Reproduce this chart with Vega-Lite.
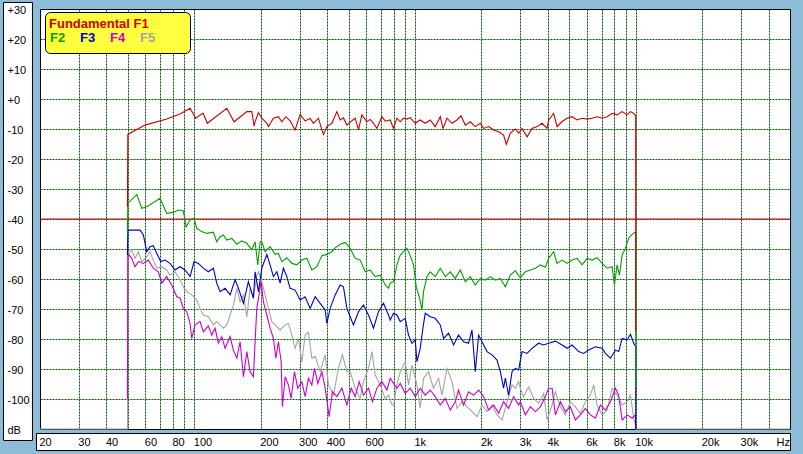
{
"$schema": "https://vega.github.io/schema/vega-lite/v6.json",
"width": 750, "height": 420,
"autosize": {"type": "none"},
"padding": {"left": 40, "top": 9, "right": 13, "bottom": 25},
"background": "#8dbcd8",
"config": {
  "view": {"fill": "white", "stroke": "black", "strokeWidth": 1},
  "axis": {"labelColor": "black", "titleColor": "black", "labelFont": "Liberation Sans", "titleFont": "Liberation Sans", "labelFontSize": 11, "titleFontSize": 11, "titleFontWeight": "normal"}
},
"data": {"values": [
{"s":"F1","f":49.8,"v":-36},{"s":"F1","f":50,"v":-11.8},{"s":"F1","f":59.8,"v":-8.7},{"s":"F1","f":75,"v":-6.7},{"s":"F1","f":86.2,"v":-5},{"s":"F1","f":95.7,"v":-3.1},{"s":"F1","f":101.5,"v":-6.4},{"s":"F1","f":109.6,"v":-4.7},{"s":"F1","f":114.6,"v":-8.1},{"s":"F1","f":140.4,"v":-3.1},{"s":"F1","f":151.5,"v":-7.6},{"s":"F1","f":173,"v":-4.2},{"s":"F1","f":182.2,"v":-4.2},{"s":"F1","f":186.6,"v":-9},{"s":"F1","f":188.6,"v":-7.6},{"s":"F1","f":195.3,"v":-4.5},{"s":"F1","f":202.3,"v":-6.4},{"s":"F1","f":213.2,"v":-8.1},{"s":"F1","f":216.7,"v":-9.2},{"s":"F1","f":228.3,"v":-6.4},{"s":"F1","f":240.6,"v":-5.9},{"s":"F1","f":249.3,"v":-7.6},{"s":"F1","f":259.9,"v":-5.9},{"s":"F1","f":271.8,"v":-7.3},{"s":"F1","f":286.4,"v":-10.3},{"s":"F1","f":301.7,"v":-5.1},{"s":"F1","f":317.9,"v":-7.3},{"s":"F1","f":334.9,"v":-6.5},{"s":"F1","f":346.6,"v":-8.1},{"s":"F1","f":365.3,"v":-6.4},{"s":"F1","f":378.5,"v":-10.3},{"s":"F1","f":384.8,"v":-11.8},{"s":"F1","f":398.8,"v":-9.2},{"s":"F1","f":420.1,"v":-8.1},{"s":"F1","f":442.6,"v":-4.2},{"s":"F1","f":458.1,"v":-7},{"s":"F1","f":474.1,"v":-6.3},{"s":"F1","f":491.4,"v":-8.7},{"s":"F1","f":508.5,"v":-7.7},{"s":"F1","f":535.8,"v":-6.4},{"s":"F1","f":554.6,"v":-10.3},{"s":"F1","f":574.6,"v":-5.3},{"s":"F1","f":605.5,"v":-7.6},{"s":"F1","f":626.6,"v":-6.8},{"s":"F1","f":648.5,"v":-8.1},{"s":"F1","f":672.1,"v":-9.8},{"s":"F1","f":708.1,"v":-5.9},{"s":"F1","f":732.9,"v":-7.4},{"s":"F1","f":772.2,"v":-7},{"s":"F1","f":799.2,"v":-9.8},{"s":"F1","f":828.2,"v":-6.4},{"s":"F1","f":857.2,"v":-7.6},{"s":"F1","f":887.2,"v":-6.4},{"s":"F1","f":919.4,"v":-6.7},{"s":"F1","f":951.5,"v":-6.2},{"s":"F1","f":1002.5,"v":-8.1},{"s":"F1","f":1056,"v":-7},{"s":"F1","f":1113,"v":-8.1},{"s":"F1","f":1172,"v":-7},{"s":"F1","f":1235,"v":-9.2},{"s":"F1","f":1302,"v":-5.9},{"s":"F1","f":1339,"v":-9.8},{"s":"F1","f":1396,"v":-6.4},{"s":"F1","f":1471,"v":-8.1},{"s":"F1","f":1549,"v":-7},{"s":"F1","f":1616,"v":-5.6},{"s":"F1","f":1690,"v":-8.7},{"s":"F1","f":1780,"v":-7.6},{"s":"F1","f":1876,"v":-9.2},{"s":"F1","f":1976,"v":-8.1},{"s":"F1","f":2045,"v":-9.8},{"s":"F1","f":2155,"v":-9.2},{"s":"F1","f":2271,"v":-10.3},{"s":"F1","f":2392,"v":-10.9},{"s":"F1","f":2520,"v":-12},{"s":"F1","f":2593,"v":-15.1},{"s":"F1","f":2703,"v":-11.4},{"s":"F1","f":2848,"v":-10},{"s":"F1","f":2948,"v":-11.4},{"s":"F1","f":3055,"v":-9.8},{"s":"F1","f":3219,"v":-12.6},{"s":"F1","f":3391,"v":-9.8},{"s":"F1","f":3573,"v":-9.2},{"s":"F1","f":3765,"v":-8.1},{"s":"F1","f":3966,"v":-9.8},{"s":"F1","f":4032,"v":-7},{"s":"F1","f":4249,"v":-4.8},{"s":"F1","f":4403,"v":-9.2},{"s":"F1","f":4639,"v":-7.5},{"s":"F1","f":4887,"v":-6.4},{"s":"F1","f":5149,"v":-5.9},{"s":"F1","f":5425,"v":-7},{"s":"F1","f":5716,"v":-6.4},{"s":"F1","f":6022,"v":-6.7},{"s":"F1","f":6345,"v":-6.4},{"s":"F1","f":6685,"v":-5.9},{"s":"F1","f":7043,"v":-6.4},{"s":"F1","f":7421,"v":-5.9},{"s":"F1","f":7819,"v":-4.8},{"s":"F1","f":8238,"v":-5.3},{"s":"F1","f":8679,"v":-4.2},{"s":"F1","f":9145,"v":-5.3},{"s":"F1","f":9464,"v":-4.2},{"s":"F1","f":9795,"v":-4.8},{"s":"F1","f":10000,"v":-5.6},{"s":"F1","f":10001,"v":-77.5},
{"s":"F2","f":49.8,"v":-44},{"s":"F2","f":50,"v":-34.8},{"s":"F2","f":54.9,"v":-31.8},{"s":"F2","f":57.8,"v":-36.4},{"s":"F2","f":60.9,"v":-35.9},{"s":"F2","f":70,"v":-33.1},{"s":"F2","f":75,"v":-38.1},{"s":"F2","f":80.3,"v":-37.8},{"s":"F2","f":84.7,"v":-37},{"s":"F2","f":89.2,"v":-37.3},{"s":"F2","f":91.8,"v":-42.6},{"s":"F2","f":95.7,"v":-40.3},{"s":"F2","f":99.8,"v":-39.8},{"s":"F2","f":102.6,"v":-43.1},{"s":"F2","f":108.1,"v":-44.2},{"s":"F2","f":113.9,"v":-44.8},{"s":"F2","f":122,"v":-44.4},{"s":"F2","f":126.4,"v":-47.6},{"s":"F2","f":130.9,"v":-45.9},{"s":"F2","f":135.5,"v":-45.3},{"s":"F2","f":140.4,"v":-47},{"s":"F2","f":147.9,"v":-46.5},{"s":"F2","f":155.9,"v":-48.4},{"s":"F2","f":164.2,"v":-47.3},{"s":"F2","f":173,"v":-48.1},{"s":"F2","f":182.2,"v":-50.3},{"s":"F2","f":188.6,"v":-47.6},{"s":"F2","f":193.9,"v":-55.3},{"s":"F2","f":198.7,"v":-47.6},{"s":"F2","f":202.3,"v":-47.6},{"s":"F2","f":209.4,"v":-50.9},{"s":"F2","f":220.6,"v":-49.2},{"s":"F2","f":232.4,"v":-51.8},{"s":"F2","f":240.6,"v":-51.5},{"s":"F2","f":249.3,"v":-54.2},{"s":"F2","f":262.6,"v":-52.9},{"s":"F2","f":276.7,"v":-54.8},{"s":"F2","f":291.5,"v":-55.3},{"s":"F2","f":307.1,"v":-53.7},{"s":"F2","f":323.6,"v":-53.1},{"s":"F2","f":340.9,"v":-57},{"s":"F2","f":359.2,"v":-55.9},{"s":"F2","f":378.5,"v":-52.2},{"s":"F2","f":398.8,"v":-51.8},{"s":"F2","f":420.1,"v":-50.9},{"s":"F2","f":434.8,"v":-49.6},{"s":"F2","f":458.1,"v":-48.4},{"s":"F2","f":482.7,"v":-47.8},{"s":"F2","f":508.5,"v":-49.8},{"s":"F2","f":535.8,"v":-53.1},{"s":"F2","f":564.5,"v":-53.7},{"s":"F2","f":594.8,"v":-57.6},{"s":"F2","f":626.6,"v":-57},{"s":"F2","f":660.2,"v":-59.2},{"s":"F2","f":695.6,"v":-58.7},{"s":"F2","f":732.9,"v":-62},{"s":"F2","f":758.5,"v":-63.1},{"s":"F2","f":772.2,"v":-61.4},{"s":"F2","f":799.2,"v":-60.9},{"s":"F2","f":828.2,"v":-55.3},{"s":"F2","f":857.2,"v":-52},{"s":"F2","f":887.2,"v":-50.9},{"s":"F2","f":919.4,"v":-49.8},{"s":"F2","f":951.5,"v":-52.2},{"s":"F2","f":984.8,"v":-55.3},{"s":"F2","f":1013,"v":-62.6},{"s":"F2","f":1049,"v":-66.4},{"s":"F2","f":1075,"v":-70.3},{"s":"F2","f":1093,"v":-64.2},{"s":"F2","f":1133,"v":-59.2},{"s":"F2","f":1172,"v":-57.6},{"s":"F2","f":1235,"v":-59.2},{"s":"F2","f":1302,"v":-56.4},{"s":"F2","f":1371,"v":-59.2},{"s":"F2","f":1445,"v":-57.6},{"s":"F2","f":1522,"v":-59.8},{"s":"F2","f":1604,"v":-57},{"s":"F2","f":1690,"v":-60.9},{"s":"F2","f":1780,"v":-59.2},{"s":"F2","f":1876,"v":-62},{"s":"F2","f":1976,"v":-59.8},{"s":"F2","f":2082,"v":-60.4},{"s":"F2","f":2194,"v":-59.2},{"s":"F2","f":2311,"v":-60.4},{"s":"F2","f":2435,"v":-59.8},{"s":"F2","f":2566,"v":-62.6},{"s":"F2","f":2703,"v":-58.7},{"s":"F2","f":2848,"v":-57.3},{"s":"F2","f":3001,"v":-59.6},{"s":"F2","f":3162,"v":-57.6},{"s":"F2","f":3331,"v":-57},{"s":"F2","f":3510,"v":-56.4},{"s":"F2","f":3698,"v":-55.3},{"s":"F2","f":3896,"v":-56.1},{"s":"F2","f":4032,"v":-53.1},{"s":"F2","f":4249,"v":-50.9},{"s":"F2","f":4403,"v":-54.8},{"s":"F2","f":4639,"v":-53.7},{"s":"F2","f":4887,"v":-54.8},{"s":"F2","f":5149,"v":-53.7},{"s":"F2","f":5425,"v":-53.1},{"s":"F2","f":5716,"v":-55.3},{"s":"F2","f":6022,"v":-53.1},{"s":"F2","f":6345,"v":-53.7},{"s":"F2","f":6685,"v":-52.9},{"s":"F2","f":7043,"v":-54.8},{"s":"F2","f":7421,"v":-56.4},{"s":"F2","f":7819,"v":-55.9},{"s":"F2","f":8008,"v":-62},{"s":"F2","f":8238,"v":-55.3},{"s":"F2","f":8437,"v":-58.7},{"s":"F2","f":8679,"v":-52},{"s":"F2","f":8983,"v":-49.8},{"s":"F2","f":9294,"v":-46.4},{"s":"F2","f":9634,"v":-45.1},{"s":"F2","f":9902,"v":-44.4},{"s":"F2","f":10000,"v":-44.8},{"s":"F2","f":10001,"v":-96},
{"s":"F3","f":49.8,"v":-52},{"s":"F3","f":50,"v":-43.7},{"s":"F3","f":56.8,"v":-43.7},{"s":"F3","f":58.8,"v":-45.3},{"s":"F3","f":60.9,"v":-50.9},{"s":"F3","f":63,"v":-49.2},{"s":"F3","f":65.2,"v":-48.9},{"s":"F3","f":67.6,"v":-51.4},{"s":"F3","f":70.5,"v":-54.2},{"s":"F3","f":73.7,"v":-53.7},{"s":"F3","f":77.6,"v":-54.8},{"s":"F3","f":81.8,"v":-57},{"s":"F3","f":86.2,"v":-55.9},{"s":"F3","f":90.8,"v":-57},{"s":"F3","f":95.7,"v":-59.2},{"s":"F3","f":99.8,"v":-54.2},{"s":"F3","f":104.3,"v":-54.8},{"s":"F3","f":109.9,"v":-56.4},{"s":"F3","f":115.8,"v":-57.6},{"s":"F3","f":122,"v":-56.4},{"s":"F3","f":126.4,"v":-61.4},{"s":"F3","f":130.9,"v":-64.2},{"s":"F3","f":137.9,"v":-63.1},{"s":"F3","f":145.3,"v":-65.3},{"s":"F3","f":153.1,"v":-60.3},{"s":"F3","f":158.5,"v":-63.1},{"s":"F3","f":167,"v":-68.1},{"s":"F3","f":175.8,"v":-60.9},{"s":"F3","f":185.3,"v":-66.4},{"s":"F3","f":188.6,"v":-57.6},{"s":"F3","f":195.3,"v":-64.2},{"s":"F3","f":202.3,"v":-56.4},{"s":"F3","f":213.2,"v":-51.8},{"s":"F3","f":220.6,"v":-55.3},{"s":"F3","f":228.3,"v":-59.2},{"s":"F3","f":236.6,"v":-57.6},{"s":"F3","f":244.9,"v":-61.4},{"s":"F3","f":253.5,"v":-56.4},{"s":"F3","f":262.6,"v":-59.2},{"s":"F3","f":271.8,"v":-63.1},{"s":"F3","f":286.4,"v":-63.7},{"s":"F3","f":301.7,"v":-67},{"s":"F3","f":317.9,"v":-65.9},{"s":"F3","f":334.9,"v":-69.8},{"s":"F3","f":352.9,"v":-65.9},{"s":"F3","f":371.8,"v":-68.1},{"s":"F3","f":391.7,"v":-70.3},{"s":"F3","f":398.8,"v":-74.8},{"s":"F3","f":412.7,"v":-69.8},{"s":"F3","f":434.8,"v":-65.3},{"s":"F3","f":458.1,"v":-62},{"s":"F3","f":474.1,"v":-62.6},{"s":"F3","f":491.4,"v":-69.8},{"s":"F3","f":508.5,"v":-72.6},{"s":"F3","f":526.3,"v":-75.3},{"s":"F3","f":554.6,"v":-70.9},{"s":"F3","f":584.3,"v":-68.7},{"s":"F3","f":615.6,"v":-72},{"s":"F3","f":648.5,"v":-76.4},{"s":"F3","f":683.3,"v":-70.9},{"s":"F3","f":719.9,"v":-68.1},{"s":"F3","f":758.5,"v":-72},{"s":"F3","f":772.2,"v":-73.7},{"s":"F3","f":799.2,"v":-71.4},{"s":"F3","f":828.2,"v":-72},{"s":"F3","f":857.2,"v":-74.2},{"s":"F3","f":903.1,"v":-73.1},{"s":"F3","f":934.7,"v":-78.7},{"s":"F3","f":968.6,"v":-81.4},{"s":"F3","f":1002.5,"v":-80.3},{"s":"F3","f":1020.5,"v":-87.6},{"s":"F3","f":1056,"v":-83.1},{"s":"F3","f":1086,"v":-76.4},{"s":"F3","f":1113,"v":-71.4},{"s":"F3","f":1172,"v":-72.6},{"s":"F3","f":1235,"v":-73.1},{"s":"F3","f":1302,"v":-75.3},{"s":"F3","f":1348,"v":-79.8},{"s":"F3","f":1419,"v":-78.1},{"s":"F3","f":1496,"v":-82},{"s":"F3","f":1575,"v":-78.7},{"s":"F3","f":1660,"v":-80.9},{"s":"F3","f":1749,"v":-81.4},{"s":"F3","f":1812,"v":-77},{"s":"F3","f":1876,"v":-90.9},{"s":"F3","f":1942,"v":-78.7},{"s":"F3","f":2012,"v":-80.9},{"s":"F3","f":2119,"v":-84.2},{"s":"F3","f":2233,"v":-85.3},{"s":"F3","f":2353,"v":-87},{"s":"F3","f":2435,"v":-90.9},{"s":"F3","f":2520,"v":-96.4},{"s":"F3","f":2566,"v":-93},{"s":"F3","f":2654,"v":-98.7},{"s":"F3","f":2752,"v":-90.9},{"s":"F3","f":2848,"v":-89.8},{"s":"F3","f":2948,"v":-90.3},{"s":"F3","f":3055,"v":-84.2},{"s":"F3","f":3219,"v":-84.8},{"s":"F3","f":3391,"v":-83.1},{"s":"F3","f":3631,"v":-81.4},{"s":"F3","f":3827,"v":-82},{"s":"F3","f":4032,"v":-81.4},{"s":"F3","f":4325,"v":-80.7},{"s":"F3","f":4639,"v":-82},{"s":"F3","f":4887,"v":-83.1},{"s":"F3","f":5149,"v":-82},{"s":"F3","f":5514,"v":-84.2},{"s":"F3","f":5812,"v":-84.8},{"s":"F3","f":6121,"v":-83.7},{"s":"F3","f":6567,"v":-82.6},{"s":"F3","f":7043,"v":-83.1},{"s":"F3","f":7290,"v":-84.8},{"s":"F3","f":7681,"v":-86.4},{"s":"F3","f":8092,"v":-83.7},{"s":"F3","f":8372,"v":-84.2},{"s":"F3","f":8679,"v":-79.8},{"s":"F3","f":9145,"v":-80.3},{"s":"F3","f":9464,"v":-78.4},{"s":"F3","f":9795,"v":-81.4},{"s":"F3","f":10000,"v":-82.6},{"s":"F3","f":10001,"v":-110},
{"s":"F4","f":49.8,"v":-100},{"s":"F4","f":50,"v":-51.5},{"s":"F4","f":52.1,"v":-53.1},{"s":"F4","f":53.9,"v":-55.9},{"s":"F4","f":55.8,"v":-54.2},{"s":"F4","f":58.8,"v":-54.8},{"s":"F4","f":61.9,"v":-53.7},{"s":"F4","f":65.2,"v":-56.4},{"s":"F4","f":68.7,"v":-57.6},{"s":"F4","f":71.3,"v":-61.4},{"s":"F4","f":75,"v":-59.2},{"s":"F4","f":79,"v":-62},{"s":"F4","f":83.3,"v":-65.9},{"s":"F4","f":86.2,"v":-66.3},{"s":"F4","f":89.2,"v":-69.8},{"s":"F4","f":92.4,"v":-70.9},{"s":"F4","f":95.7,"v":-74.8},{"s":"F4","f":97.4,"v":-79.8},{"s":"F4","f":100.8,"v":-75.3},{"s":"F4","f":106.2,"v":-74.2},{"s":"F4","f":109.9,"v":-77.6},{"s":"F4","f":115.8,"v":-75.6},{"s":"F4","f":120,"v":-78.7},{"s":"F4","f":124.2,"v":-76.4},{"s":"F4","f":128.5,"v":-81.4},{"s":"F4","f":133.3,"v":-79.2},{"s":"F4","f":137.9,"v":-83.1},{"s":"F4","f":145.3,"v":-79.2},{"s":"F4","f":150.4,"v":-83.7},{"s":"F4","f":155.9,"v":-86.4},{"s":"F4","f":161.3,"v":-80.9},{"s":"F4","f":167,"v":-92.6},{"s":"F4","f":173,"v":-84.2},{"s":"F4","f":179,"v":-90.9},{"s":"F4","f":185.3,"v":-92.6},{"s":"F4","f":188.6,"v":-80.9},{"s":"F4","f":192,"v":-69.8},{"s":"F4","f":196.6,"v":-65.3},{"s":"F4","f":200.8,"v":-60.9},{"s":"F4","f":205.7,"v":-67.6},{"s":"F4","f":213.2,"v":-72},{"s":"F4","f":220.6,"v":-76.4},{"s":"F4","f":228.3,"v":-79.8},{"s":"F4","f":234.1,"v":-86.4},{"s":"F4","f":240.6,"v":-80.9},{"s":"F4","f":247.5,"v":-87.6},{"s":"F4","f":250.8,"v":-102.6},{"s":"F4","f":258,"v":-92.6},{"s":"F4","f":266.9,"v":-95.3},{"s":"F4","f":274.7,"v":-99.8},{"s":"F4","f":284.3,"v":-90.9},{"s":"F4","f":294.4,"v":-96.4},{"s":"F4","f":307.1,"v":-94.2},{"s":"F4","f":317.9,"v":-99.2},{"s":"F4","f":329,"v":-93.1},{"s":"F4","f":340.9,"v":-95.3},{"s":"F4","f":350.4,"v":-89.8},{"s":"F4","f":362.8,"v":-94.8},{"s":"F4","f":378.5,"v":-90.9},{"s":"F4","f":391.7,"v":-96.4},{"s":"F4","f":408.4,"v":-105.9},{"s":"F4","f":422.7,"v":-97.6},{"s":"F4","f":442.6,"v":-99.2},{"s":"F4","f":466.3,"v":-96.4},{"s":"F4","f":491.4,"v":-102},{"s":"F4","f":513.8,"v":-96.4},{"s":"F4","f":535.8,"v":-99.2},{"s":"F4","f":558.6,"v":-94.2},{"s":"F4","f":584.3,"v":-98.7},{"s":"F4","f":615.6,"v":-96.4},{"s":"F4","f":641.7,"v":-100.9},{"s":"F4","f":672.1,"v":-96.4},{"s":"F4","f":708.1,"v":-94.2},{"s":"F4","f":746.1,"v":-97},{"s":"F4","f":772.2,"v":-93.1},{"s":"F4","f":807.9,"v":-95.3},{"s":"F4","f":828.2,"v":-96.4},{"s":"F4","f":857.2,"v":-94.8},{"s":"F4","f":903.1,"v":-98.1},{"s":"F4","f":951.5,"v":-96.4},{"s":"F4","f":1002.5,"v":-99.2},{"s":"F4","f":1056,"v":-96.4},{"s":"F4","f":1113,"v":-98.7},{"s":"F4","f":1172,"v":-97},{"s":"F4","f":1235,"v":-99.2},{"s":"F4","f":1302,"v":-102},{"s":"F4","f":1371,"v":-99.8},{"s":"F4","f":1445,"v":-103.7},{"s":"F4","f":1522,"v":-100.9},{"s":"F4","f":1575,"v":-97},{"s":"F4","f":1660,"v":-102},{"s":"F4","f":1749,"v":-97.6},{"s":"F4","f":1842,"v":-98.7},{"s":"F4","f":1942,"v":-97},{"s":"F4","f":2045,"v":-99.2},{"s":"F4","f":2155,"v":-103.7},{"s":"F4","f":2271,"v":-102},{"s":"F4","f":2392,"v":-104.8},{"s":"F4","f":2520,"v":-100.9},{"s":"F4","f":2654,"v":-103.1},{"s":"F4","f":2798,"v":-99.2},{"s":"F4","f":2948,"v":-102},{"s":"F4","f":3001,"v":-100.9},{"s":"F4","f":3162,"v":-105.3},{"s":"F4","f":3331,"v":-102.6},{"s":"F4","f":3510,"v":-104.2},{"s":"F4","f":3698,"v":-102.6},{"s":"F4","f":3896,"v":-99.2},{"s":"F4","f":4032,"v":-96.4},{"s":"F4","f":4179,"v":-96.4},{"s":"F4","f":4325,"v":-105.3},{"s":"F4","f":4557,"v":-100.9},{"s":"F4","f":4801,"v":-104.2},{"s":"F4","f":5058,"v":-102.6},{"s":"F4","f":5329,"v":-107},{"s":"F4","f":5615,"v":-105.3},{"s":"F4","f":5916,"v":-103.1},{"s":"F4","f":6233,"v":-105.3},{"s":"F4","f":6567,"v":-106.4},{"s":"F4","f":6919,"v":-102},{"s":"F4","f":7290,"v":-103.7},{"s":"F4","f":7681,"v":-100.9},{"s":"F4","f":8092,"v":-96.4},{"s":"F4","f":8372,"v":-98.7},{"s":"F4","f":8679,"v":-107},{"s":"F4","f":9145,"v":-105.3},{"s":"F4","f":9634,"v":-106.4},{"s":"F4","f":9972,"v":-105.3},{"s":"F4","f":10001,"v":-110},
{"s":"F5","f":20,"v":-110},{"s":"F5","f":49.8,"v":-110},{"s":"F5","f":50,"v":-52},{"s":"F5","f":52.1,"v":-50.3},{"s":"F5","f":53.9,"v":-53.1},{"s":"F5","f":55.8,"v":-50.9},{"s":"F5","f":57.8,"v":-54.2},{"s":"F5","f":60.9,"v":-52.6},{"s":"F5","f":63,"v":-50.9},{"s":"F5","f":65.2,"v":-53.7},{"s":"F5","f":67.6,"v":-56.4},{"s":"F5","f":71.3,"v":-55.9},{"s":"F5","f":75,"v":-57},{"s":"F5","f":77.6,"v":-58.7},{"s":"F5","f":81.8,"v":-57.6},{"s":"F5","f":86.2,"v":-60.3},{"s":"F5","f":89.2,"v":-62.6},{"s":"F5","f":92.4,"v":-64.2},{"s":"F5","f":97.4,"v":-65.3},{"s":"F5","f":102.6,"v":-67},{"s":"F5","f":106.2,"v":-69.8},{"s":"F5","f":109.9,"v":-72},{"s":"F5","f":115.8,"v":-72.6},{"s":"F5","f":122,"v":-75.3},{"s":"F5","f":126.4,"v":-74.2},{"s":"F5","f":130.9,"v":-75.3},{"s":"F5","f":135.5,"v":-76.4},{"s":"F5","f":140.4,"v":-75.3},{"s":"F5","f":145.3,"v":-72},{"s":"F5","f":150.4,"v":-68.7},{"s":"F5","f":155.9,"v":-63.1},{"s":"F5","f":161.3,"v":-67.6},{"s":"F5","f":167,"v":-65.3},{"s":"F5","f":173,"v":-72.6},{"s":"F5","f":179,"v":-63.1},{"s":"F5","f":185.3,"v":-66.4},{"s":"F5","f":192,"v":-58.7},{"s":"F5","f":195.3,"v":-57.6},{"s":"F5","f":202.3,"v":-60.9},{"s":"F5","f":209.4,"v":-65.3},{"s":"F5","f":216.7,"v":-69.8},{"s":"F5","f":224.6,"v":-74.2},{"s":"F5","f":232.4,"v":-75.3},{"s":"F5","f":244.9,"v":-77},{"s":"F5","f":258,"v":-75.3},{"s":"F5","f":266.9,"v":-74.8},{"s":"F5","f":276.7,"v":-78.7},{"s":"F5","f":286.4,"v":-83.1},{"s":"F5","f":296.4,"v":-79.8},{"s":"F5","f":307.1,"v":-87.6},{"s":"F5","f":317.9,"v":-78.7},{"s":"F5","f":329,"v":-77.8},{"s":"F5","f":340.9,"v":-86.4},{"s":"F5","f":352.9,"v":-85.8},{"s":"F5","f":371.8,"v":-90.9},{"s":"F5","f":391.7,"v":-85.3},{"s":"F5","f":405.4,"v":-95.3},{"s":"F5","f":427.2,"v":-98.7},{"s":"F5","f":450,"v":-89.8},{"s":"F5","f":469.1,"v":-85.3},{"s":"F5","f":491.4,"v":-90.9},{"s":"F5","f":508.5,"v":-90.9},{"s":"F5","f":535.8,"v":-96.4},{"s":"F5","f":564.5,"v":-99.8},{"s":"F5","f":584.3,"v":-94.2},{"s":"F5","f":615.6,"v":-89.8},{"s":"F5","f":637.9,"v":-84.2},{"s":"F5","f":660.2,"v":-92},{"s":"F5","f":695.6,"v":-95.3},{"s":"F5","f":732.9,"v":-99.8},{"s":"F5","f":758.5,"v":-98.7},{"s":"F5","f":786.1,"v":-102},{"s":"F5","f":799.2,"v":-102},{"s":"F5","f":828.2,"v":-95.3},{"s":"F5","f":857.2,"v":-90.9},{"s":"F5","f":903.1,"v":-87.6},{"s":"F5","f":934.7,"v":-95.3},{"s":"F5","f":968.6,"v":-88.7},{"s":"F5","f":1020.5,"v":-95.3},{"s":"F5","f":1056,"v":-103.1},{"s":"F5","f":1093,"v":-93.1},{"s":"F5","f":1152,"v":-90.9},{"s":"F5","f":1213,"v":-96.4},{"s":"F5","f":1278,"v":-93.1},{"s":"F5","f":1325,"v":-98.7},{"s":"F5","f":1396,"v":-89.8},{"s":"F5","f":1471,"v":-94.2},{"s":"F5","f":1549,"v":-103.1},{"s":"F5","f":1633,"v":-100.9},{"s":"F5","f":1720,"v":-102.6},{"s":"F5","f":1812,"v":-104.2},{"s":"F5","f":1910,"v":-105.9},{"s":"F5","f":2012,"v":-102},{"s":"F5","f":2119,"v":-104.2},{"s":"F5","f":2233,"v":-102},{"s":"F5","f":2353,"v":-105.3},{"s":"F5","f":2479,"v":-107},{"s":"F5","f":2566,"v":-103.1},{"s":"F5","f":2654,"v":-99.2},{"s":"F5","f":2752,"v":-95.3},{"s":"F5","f":2848,"v":-96.4},{"s":"F5","f":2948,"v":-94.2},{"s":"F5","f":3001,"v":-96.4},{"s":"F5","f":3106,"v":-99.2},{"s":"F5","f":3273,"v":-95.9},{"s":"F5","f":3448,"v":-99.8},{"s":"F5","f":3631,"v":-101.4},{"s":"F5","f":3827,"v":-98.1},{"s":"F5","f":3966,"v":-107},{"s":"F5","f":4179,"v":-102},{"s":"F5","f":4325,"v":-97.6},{"s":"F5","f":4557,"v":-102.6},{"s":"F5","f":4801,"v":-105.3},{"s":"F5","f":5058,"v":-100.9},{"s":"F5","f":5329,"v":-102.6},{"s":"F5","f":5615,"v":-104.8},{"s":"F5","f":5916,"v":-100.9},{"s":"F5","f":6233,"v":-98.7},{"s":"F5","f":6451,"v":-95.3},{"s":"F5","f":6685,"v":-102},{"s":"F5","f":7043,"v":-105.3},{"s":"F5","f":7421,"v":-103.7},{"s":"F5","f":7819,"v":-96.4},{"s":"F5","f":8238,"v":-98.7},{"s":"F5","f":8679,"v":-102},{"s":"F5","f":9145,"v":-100.9},{"s":"F5","f":9464,"v":-98.7},{"s":"F5","f":9795,"v":-106.4},{"s":"F5","f":9972,"v":-108.7},{"s":"F5","f":10001,"v":-110},{"s":"F5","f":50000,"v":-110}
]},
"layer": [
  {"data": {"values": [{}]}, "mark": {"type": "rect", "fill": "white", "stroke": "black", "strokeWidth": 1},
   "encoding": {"x": {"datum": 13.67, "type": "quantitative", "axis": null}, "x2": {"datum": 18.49}, "y": {"datum": 32.17, "type": "quantitative", "axis": null}, "y2": {"datum": -113.83}}},
  {"data": {"values": [{}]}, "mark": {"type": "rect", "fill": "white", "stroke": "black", "strokeWidth": 1},
   "encoding": {"x": {"datum": 19.28, "type": "quantitative", "axis": null}, "x2": {"datum": 50260}, "y": {"datum": -111.5, "type": "quantitative", "axis": null}, "y2": {"datum": -117.17}}},
  {"data": {"values": [{}]}, "mark": {"type": "rect", "fill": "#ffff40", "stroke": "black", "strokeWidth": 1, "cornerRadius": 5},
   "encoding": {"x": {"datum": 21.18, "type": "quantitative", "axis": null}, "x2": {"datum": 96.16}, "y": {"datum": 28.83, "type": "quantitative", "axis": null}, "y2": {"datum": 15.17}}},
  {"transform": [{"filter": "datum.s === 'F5'"}], "mark": {"type": "line", "strokeWidth": 1.1},
   "encoding": {
     "x": {"field": "f", "type": "quantitative", "scale": {"type": "log", "domain": [20, 50000], "nice": false},
       "axis": {"orient": "bottom", "values": [30,40,50,60,70,80,90,100,200,300,400,500,600,700,800,900,1000,2000,3000,4000,5000,6000,7000,8000,9000,10000,20000,30000,40000], "grid": true, "gridColor": "#005a00", "gridDash": [2,1], "gridOpacity": 1, "gridWidth": 1, "labels": false, "ticks": false, "domain": false, "title": null, "zindex": 0}},
     "y": {"field": "v", "type": "quantitative", "scale": {"domain": [-110, 30], "nice": false, "zero": false},
       "axis": {"orient": "left", "values": [-100,-90,-80,-70,-60,-50,-40,-30,-20,-10,0,10,20], "grid": true, "gridColor": "#005a00", "gridDash": [2,1], "gridOpacity": 1, "gridWidth": 1, "labels": false, "ticks": false, "domain": false, "title": null, "zindex": 0}},
     "color": {"field": "s", "type": "nominal", "scale": {"domain": ["F1","F2","F3","F4","F5"], "range": ["#cc0000","#00a000","#0000c8","#cc00cc","#a4a4a4"]}}}},
  {"data": {"values": [{}]}, "mark": {"type": "rule", "color": "#cc0000", "strokeWidth": 1},
   "encoding": {"y": {"datum": -40, "type": "quantitative", "axis": null}}},
  {"transform": [{"filter": "datum.s === 'F4'"}], "mark": {"type": "line", "strokeWidth": 1.1},
   "encoding": {
     "x": {"field": "f", "type": "quantitative", "axis": null},
     "y": {"field": "v", "type": "quantitative", "axis": null},
     "color": {"field": "s", "type": "nominal", "scale": {"domain": ["F1","F2","F3","F4","F5"], "range": ["#cc0000","#00a000","#0000c8","#cc00cc","#a4a4a4"]}}}},
  {"transform": [{"filter": "datum.s === 'F3'"}], "mark": {"type": "line", "strokeWidth": 1.1},
   "encoding": {
     "x": {"field": "f", "type": "quantitative", "axis": null},
     "y": {"field": "v", "type": "quantitative", "axis": null},
     "color": {"field": "s", "type": "nominal", "scale": {"domain": ["F1","F2","F3","F4","F5"], "range": ["#cc0000","#00a000","#0000c8","#cc00cc","#a4a4a4"]}}}},
  {"transform": [{"filter": "datum.s === 'F2'"}], "mark": {"type": "line", "strokeWidth": 1.1},
   "encoding": {
     "x": {"field": "f", "type": "quantitative", "axis": null},
     "y": {"field": "v", "type": "quantitative", "axis": null},
     "color": {"field": "s", "type": "nominal", "scale": {"domain": ["F1","F2","F3","F4","F5"], "range": ["#cc0000","#00a000","#0000c8","#cc00cc","#a4a4a4"]}}}},
  {"transform": [{"filter": "datum.s === 'F1'"}], "mark": {"type": "line", "strokeWidth": 1.1},
   "encoding": {
     "x": {"field": "f", "type": "quantitative",
       "axis": {"orient": "bottom", "values": [20,30,40,60,80,100,200,300,400,600,1000,2000,3000,4000,6000,8000,10000,20000,30000], "labelExpr": "datum.value >= 1000 ? (datum.value / 1000) + 'k' : '' + datum.value", "grid": false, "domain": false, "ticks": false, "tickSize": 0, "labelPadding": 13.5, "labelBaseline": "middle", "labelAlign": "left", "labelOffset": -1, "labelFlush": false, "labelOverlap": false, "labelBound": false, "title": "Hz", "titleX": 736, "titleY": 13.5, "titleAlign": "left", "titleBaseline": "middle", "titleAngle": 0, "zindex": 1}},
     "y": {"field": "v", "type": "quantitative",
       "axis": {"orient": "left", "values": [-100,-90,-80,-70,-60,-50,-40,-30,-20,-10,0,10,20,30], "labelExpr": "(datum.value >= 0 ? '+' : '-') + abs(datum.value)", "grid": false, "domain": false, "ticks": false, "tickSize": 0, "labelPadding": 33, "labelAlign": "left", "labelBaseline": "middle", "labelOffset": 1.5, "labelFlush": false, "labelOverlap": false, "labelBound": false, "title": "dB", "titleX": -33, "titleY": 421, "titleAngle": 0, "titleAlign": "left", "titleBaseline": "middle", "zindex": 1}},
     "color": {"field": "s", "type": "nominal", "scale": {"domain": ["F1","F2","F3","F4","F5"], "range": ["#cc0000","#00a000","#0000c8","#cc00cc","#a4a4a4"]},
       "legend": {"orient": "none", "legendX": 9, "legendY": 8.5, "direction": "horizontal", "values": ["F2","F3","F4","F5"], "title": "Fundamental F1", "titleColor": "#cc0000", "titleFont": "Liberation Sans", "titleFontSize": 13, "titleFontWeight": "bold", "titlePadding": 0.5, "labelFont": "Liberation Sans", "labelFontSize": 13, "labelFontWeight": "bold", "labelOffset": -12, "symbolType": "circle", "symbolSize": 0, "symbolOpacity": 0, "symbolStrokeWidth": 0, "columnPadding": 13, "padding": 0,
         "encode": {"labels": {"update": {"fill": {"scale": "color", "field": "value"}}}}}}}}
],
"resolve": {"axis": {"x": "independent", "y": "independent"}}
}
